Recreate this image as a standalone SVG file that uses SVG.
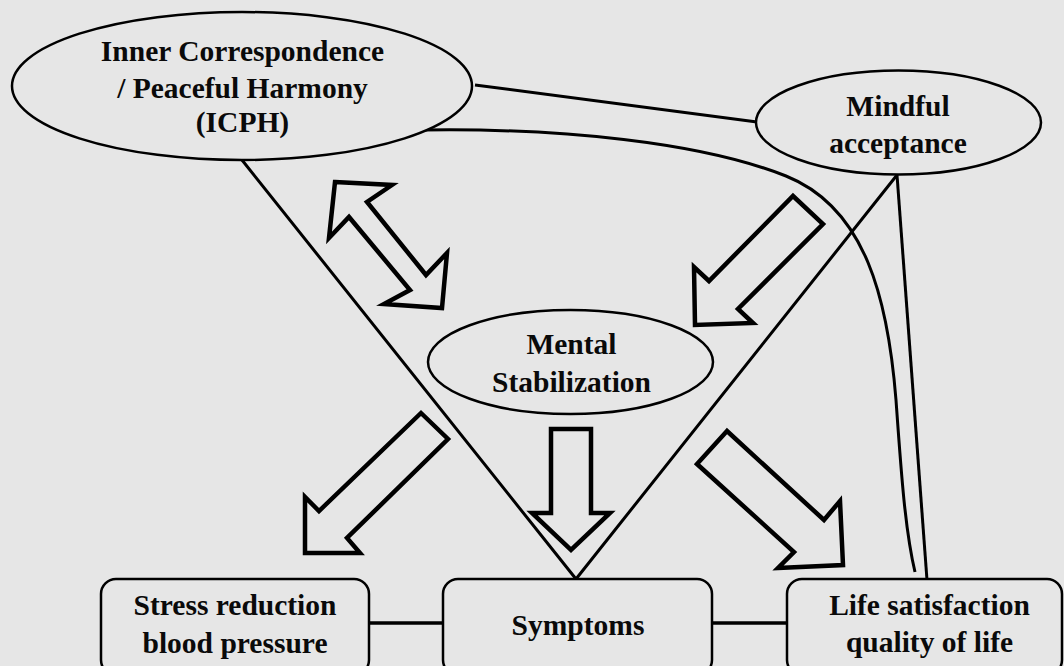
<svg xmlns="http://www.w3.org/2000/svg" width="1064" height="666" viewBox="0 0 1064 666">
<style>
.bg{fill:#e6e6e6}
.node{fill:#e6e6e6;stroke:#000;stroke-width:2.5}
.t{font-family:'Liberation Serif','Times New Roman','DejaVu Serif',serif;font-weight:700;font-size:29.5px;fill:#0a0a0a;text-anchor:middle}
.ln{fill:none;stroke:#000;stroke-width:3}
.conn{fill:none;stroke:#000;stroke-width:3.5}
.arr{fill:#e6e6e6;stroke:#000;stroke-width:4.5;stroke-linejoin:miter}
</style>
<rect class="bg" x="0" y="0" width="1064" height="666"/>
<g id="connectors">
<line class="ln" x1="475" y1="85" x2="757" y2="122"/>
<path class="ln" d="M 423 130 C 560 128 700 142 786 176 C 866 208 888 300 896 400 C 901 470 905 530 915 572"/>
<line class="ln" x1="897" y1="175" x2="927" y2="580"/>
<polyline class="ln" points="242,160 576,579 897,175"/>
<line class="conn" x1="369" y1="623" x2="443" y2="623"/>
<line class="conn" x1="712" y1="623" x2="787" y2="623"/>
<polygon class="arr" points="335,182 392,185 367,202 426,275 447,253 442,308 384,304 410,290 349,217 329,238"/>
<polygon class="arr" points="793,196 823,224 738,309 753,323 695,325 694,267 709,281"/>
<polygon class="arr" points="421,413 448,439 347,538 360,553 305,553 305,497 319,511"/>
<polygon class="arr" points="551,429 591,429 591,513 610,513 571,550 532,513 551,513"/>
<polygon class="arr" points="727,431 697,464 794,552 778,568 843,565 840,501 824,520"/>
</g>
<g id="icph">
<ellipse class="node" cx="242" cy="86" rx="230" ry="74"/>
<text class="t" x="242.5" y="61" font-family="Liberation Serif, serif">Inner Correspondence</text>
<text class="t" x="242.5" y="97.5" font-family="Liberation Serif, serif">/ Peaceful Harmony</text>
<text class="t" x="242.5" y="131.5" font-family="Liberation Serif, serif">(ICPH)</text>
</g>
<g id="mindful">
<ellipse class="node" cx="898.5" cy="122.5" rx="142.5" ry="52"/>
<text class="t" x="898" y="116" font-family="Liberation Serif, serif">Mindful</text>
<text class="t" x="898" y="153" font-family="Liberation Serif, serif">acceptance</text>
</g>
<g id="mental">
<ellipse class="node" cx="570.5" cy="362" rx="142.5" ry="52"/>
<text class="t" x="571.5" y="354" font-family="Liberation Serif, serif">Mental</text>
<text class="t" x="571.5" y="391.5" font-family="Liberation Serif, serif">Stabilization</text>
</g>
<g id="stress">
<rect class="node" x="101" y="579" width="268" height="96" rx="15"/>
<text class="t" x="235" y="615" font-family="Liberation Serif, serif">Stress reduction</text>
<text class="t" x="235" y="653" font-family="Liberation Serif, serif">blood pressure</text>
</g>
<g id="symptoms">
<rect class="node" x="443" y="579" width="269" height="96" rx="15"/>
<text class="t" x="578" y="635" font-family="Liberation Serif, serif">Symptoms</text>
</g>
<g id="life">
<rect class="node" x="787" y="579" width="275" height="96" rx="15"/>
<text class="t" x="929.5" y="615" font-family="Liberation Serif, serif">Life satisfaction</text>
<text class="t" x="929.5" y="652" font-family="Liberation Serif, serif">quality of life</text>
</g>
</svg>
